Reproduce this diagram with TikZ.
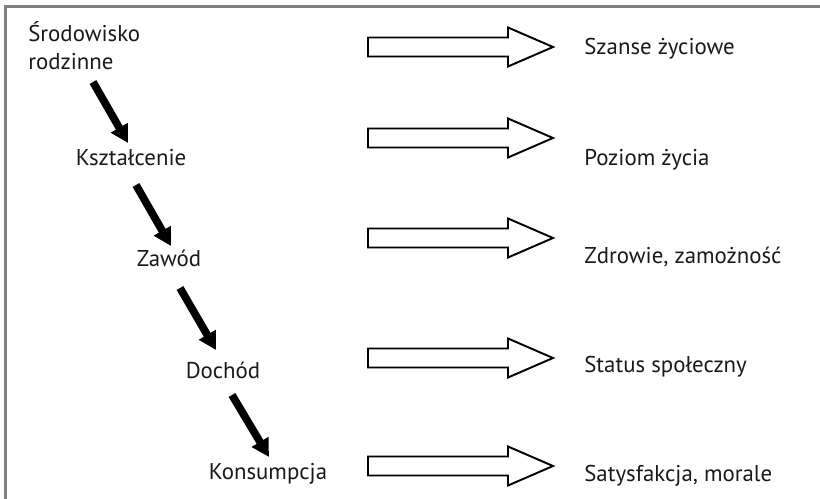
\documentclass[tikz,border=0pt]{standalone}
\usepackage{fontspec}
\setmainfont{PT Sans}
\usetikzlibrary{arrows.meta,positioning}

\tikzset{
  lbl/.style={inner sep=0pt, text=black!90, font=\fontsize{13}{16}\selectfont},
  res/.style={lbl, anchor=base west},
  flow/.style={line width=4.4pt, -{Triangle[length=10pt,width=10.5pt]}},
  fat/.style={line width=1.1pt, fill=white, line join=miter},
}

\begin{document}
\begin{tikzpicture}[x=0.02cm, y=-0.02cm]
		\clip (0,0) rectangle (820,499);
		\draw[gray, line width=1.2pt] (5.5,510) |- (830,6.5);
		% chain of stages
		\node[lbl, align=left, anchor=base west] (rodz) at (28,70) {Środowisko\\rodzinne};
		\node[lbl, anchor=base] (kszt) at (131,166) {Kształcenie};
		\node[lbl, anchor=base] (zawod) at (169,267) {Zawód};
		\node[lbl, anchor=base] (doch) at (223,378) {Dochód};
		\node[lbl, anchor=base] (kons) at (268,479) {Konsumpcja};
		\draw[flow] ([shift={(65,12)}]rodz.base west) -- ([shift={(-3,-23)}]kszt.base);
		\draw[flow] ([shift={(5,19)}]kszt.base) -- ([shift={(2,-21)}]zawod.base);
		\draw[flow] ([shift={(11,21)}]zawod.base) -- ([shift={(-7,-28)}]doch.base);
		\draw[flow] ([shift={(9,17)}]doch.base) -- ([shift={(1,-22)}]kons.base);
		% outcomes
		\foreach \y in {47,138,238,358,466}
			\draw[fat] (368,\y-9.5) -- (508,\y-9.5) -- (508,\y-19.5) -- (553,\y)
				-- (508,\y+19.5) -- (508,\y+9.5) -- (368,\y+9.5) -- cycle;
		\node[res] (szanse) at (584,55) {Szanse życiowe};
		\node[res] (poziom) at (584,166) {Poziom życia};
		\node[res] (zdrow) at (584,264) {Zdrowie, zamożność};
		\node[res] (status) at (584,372) {Status społeczny};
		\node[res] (satys) at (584,481) {Satysfakcja, morale};
	\end{tikzpicture}
\end{document}
